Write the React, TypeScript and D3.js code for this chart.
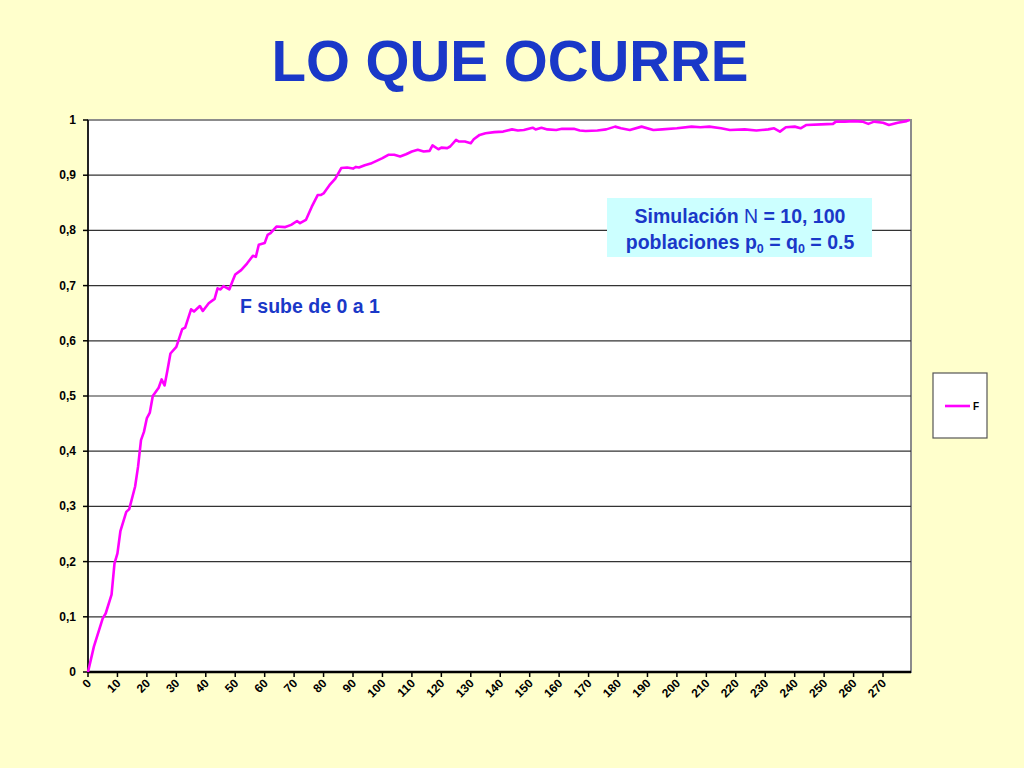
import React from 'react';
import * as d3 from 'd3';

// generation (x) and inbreeding coefficient F (y)
const generations = [
  0, 2, 5, 6, 8, 9, 10, 11, 13, 14, 16, 17, 18, 19, 20, 21, 22, 24, 25, 26, 27, 28, 30, 32, 33, 35, 36, 38, 39,
  41, 43, 44, 45, 46, 48, 49, 50, 52, 54, 56, 57, 58, 60, 61, 62, 64, 67, 69, 71, 72, 74, 76, 78, 79, 80, 82, 84,
  86, 88, 90, 91, 92, 94, 96, 98, 100, 102, 104, 106, 108, 110, 112, 114, 116, 117, 119, 120, 122, 123, 125, 126,
  128, 130, 131, 133, 135, 138, 141, 144, 146, 148, 151, 152, 154, 156, 159, 161, 165, 167, 169, 173, 176, 179,
  181, 184, 188, 192, 195, 200, 205, 208, 211, 215, 218, 223, 227, 231, 233, 235, 237, 240, 242, 244, 249, 253,
  254, 257, 260, 263, 265, 267, 270, 272, 275, 278, 279,
];
const fValues = [
  0, 0.046, 0.097, 0.106, 0.14, 0.197, 0.215, 0.255, 0.29, 0.295, 0.336, 0.372, 0.42, 0.435, 0.46, 0.47, 0.5,
  0.515, 0.53, 0.519, 0.547, 0.577, 0.589, 0.621, 0.624, 0.657, 0.653, 0.663, 0.654, 0.668, 0.676, 0.695, 0.693,
  0.699, 0.693, 0.707, 0.72, 0.728, 0.74, 0.754, 0.752, 0.774, 0.777, 0.792, 0.795, 0.807, 0.806, 0.81, 0.817,
  0.813, 0.819, 0.843, 0.864, 0.864, 0.867, 0.882, 0.894, 0.913, 0.914, 0.912, 0.915, 0.914, 0.918, 0.921, 0.926,
  0.931, 0.937, 0.937, 0.934, 0.938, 0.943, 0.946, 0.943, 0.944, 0.954, 0.947, 0.95, 0.949, 0.952, 0.964, 0.961,
  0.961, 0.958, 0.965, 0.973, 0.976, 0.978, 0.979, 0.983, 0.981, 0.982, 0.986, 0.983, 0.986, 0.983, 0.982, 0.984,
  0.984, 0.981, 0.98, 0.981, 0.983, 0.988, 0.985, 0.982, 0.988, 0.982, 0.983, 0.985, 0.988, 0.987, 0.988, 0.985,
  0.982, 0.983, 0.981, 0.983, 0.985, 0.979, 0.987, 0.988, 0.985, 0.991, 0.992, 0.993, 0.997, 0.997, 0.998, 0.997,
  0.993, 0.997, 0.995, 0.991, 0.995, 0.998, 1.0,
];
const xTicks = d3.range(0, 271, 10);
const yTicks = d3.range(0, 11).map((i) => i / 10);
const yTickLabel = (v: number) => (v === 0 ? '0' : v === 1 ? '1' : v.toFixed(1).replace('.', ','));

const FONT = '"Liberation Sans", Arial, Helvetica, sans-serif';
const BLUE = '#1a38c8';
const MAGENTA = '#ff00ff';

export default function App() {
  const plot = { left: 88, right: 911, top: 120, bottom: 672 };

  const x = d3.scaleLinear().domain([0, 279.5]).range([plot.left, plot.right]);
  const y = d3.scaleLinear().domain([0, 1]).range([plot.bottom, plot.top]);

  const points = generations.map((g, i) => [g, fValues[i]] as [number, number]);
  const path = d3
    .line<[number, number]>()
    .x((d) => x(d[0]))
    .y((d) => y(d[1]))(points);

  return (
    <div style={{ position: 'fixed', left: 0, top: 0 }}>
      <svg width={1024} height={768} style={{ display: 'block' }} fontFamily={FONT}>
        <rect width={1024} height={768} fill="#ffffcc" />

        <text x={510} y={81} textAnchor="middle" fontSize={56.5} fontWeight="bold" fill={BLUE}>
          LO QUE OCURRE
        </text>

        {/* plot area */}
        <rect
          x={plot.left}
          y={plot.top}
          width={plot.right - plot.left}
          height={plot.bottom - plot.top}
          fill="#ffffff"
          stroke="#8c8c8c"
          strokeWidth={2}
        />

        {/* gridlines */}
        {yTicks
          .filter((v) => v > 0 && v < 1)
          .map((v) => (
            <line key={v} x1={plot.left} x2={plot.right} y1={y(v)} y2={y(v)} stroke="#333333" strokeWidth={1.2} />
          ))}

        {/* y axis */}
        <line x1={plot.left} x2={plot.left} y1={plot.top} y2={plot.bottom} stroke="#000" strokeWidth={1.5} />
        {yTicks.map((v) => (
          <g key={v}>
            <line x1={plot.left - 5} x2={plot.left} y1={y(v)} y2={y(v)} stroke="#000" strokeWidth={1.5} />
            <text x={plot.left - 12} y={y(v) + 4} textAnchor="end" fontSize={12} fontWeight="bold" fill="#000">
              {yTickLabel(v)}
            </text>
          </g>
        ))}

        {/* x axis */}
        <line x1={plot.left} x2={plot.right} y1={plot.bottom} y2={plot.bottom} stroke="#000" strokeWidth={2.5} />
        {xTicks.map((t) => (
          <g key={t}>
            <line x1={x(t)} x2={x(t)} y1={plot.bottom} y2={plot.bottom + 5} stroke="#000" strokeWidth={1.5} />
            <text
              transform={`translate(${x(t) + 4},${plot.bottom + 12}) rotate(-45)`}
              textAnchor="end"
              fontSize={12}
              fontWeight="bold"
              fill="#000"
            >
              {t}
            </text>
          </g>
        ))}

        {/* series */}
        <path d={path ?? ''} fill="none" stroke={MAGENTA} strokeWidth={2.6} strokeLinejoin="round" />

        {/* annotations */}
        <text x={240} y={313} fontSize={19.5} fontWeight="bold" fill={BLUE}>
          F sube de 0 a 1
        </text>

        <rect x={607} y={198} width={265} height={59} fill="#ccffff" />
        <text x={740} y={223} textAnchor="middle" fontSize={19.5} fontWeight="bold" fill={BLUE}>
          Simulación <tspan fontWeight="normal">N</tspan> = 10, 100
        </text>
        <text x={740} y={249} textAnchor="middle" fontSize={19.5} fontWeight="bold" fill={BLUE}>
          poblaciones p<tspan fontSize={12.5} dy={4}>0</tspan>
          <tspan dy={-4}> = q</tspan>
          <tspan fontSize={12.5} dy={4}>0</tspan>
          <tspan dy={-4}> = 0.5</tspan>
        </text>

        {/* legend */}
        <rect x={933} y={373} width={54} height={65} fill="#ffffff" stroke="#555555" strokeWidth={1.2} />
        <line x1={945} x2={970} y1={406} y2={406} stroke={MAGENTA} strokeWidth={2.6} />
        <text x={973} y={410} fontSize={10} fontWeight="bold" fill="#000">
          F
        </text>
      </svg>
    </div>
  );
}
